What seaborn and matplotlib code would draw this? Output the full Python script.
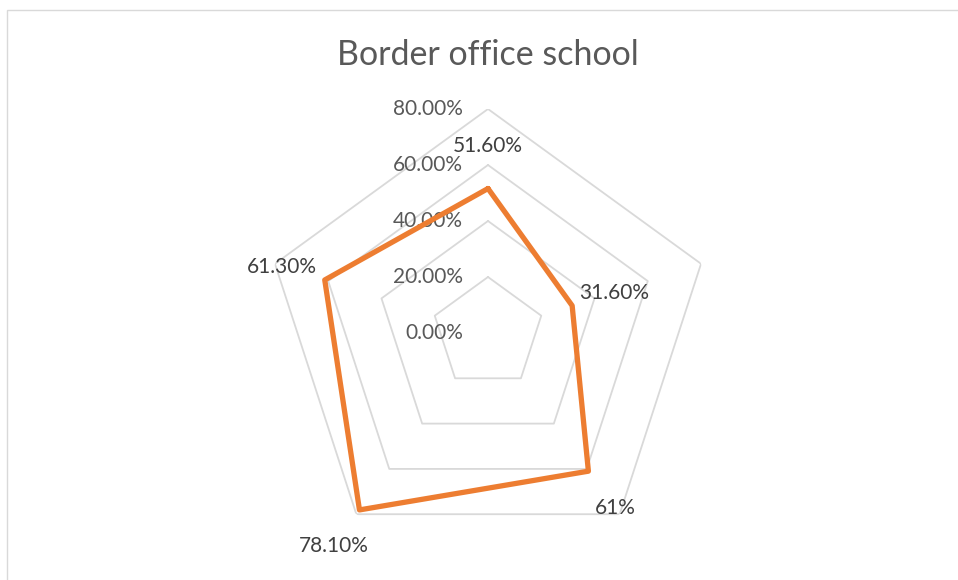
import numpy as np
import matplotlib
matplotlib.use("Agg")
import matplotlib.pyplot as plt
import seaborn as sns
from matplotlib.patches import Rectangle

title = "Border office school"
categories = ["A", "B", "C", "D", "E"]
values = [51.6, 31.6, 61.0, 78.1, 61.3]
value_labels = ["51.60%", "31.60%", "61%", "78.10%", "61.30%"]
ring_values = [0, 20, 40, 60, 80]
ring_labels = ["0.00%", "20.00%", "40.00%", "60.00%", "80.00%"]
label_offsets = [(0, 43), (42, 13), (27, -37), (-26, -36), (-43, 13)]

sns.set_theme(style="white")
plt.rcParams['font.family'] = ['Lato', 'DejaVu Sans']

W, H = 958, 580
fig = plt.figure(figsize=(W / 100, H / 100), dpi=100)
fig.patch.set_facecolor("white")

# chart border
fig.patches.append(Rectangle((7 / W, -0.2), 2.0, 1.2 - 10 / H, transform=fig.transFigure,
                             fill=False, edgecolor="#D9D9D9", linewidth=1.0))

cx, cy, R = 488, 333, 224
ax = fig.add_axes([(cx - R) / W, (H - cy - R) / H, 2 * R / W, 2 * R / H], projection="polar")
ax.set_theta_zero_location("N")
ax.set_theta_direction(-1)
ax.set_ylim(0, 80)
ax.grid(False)
ax.set_xticks([])
ax.set_yticks([])
ax.spines["polar"].set_visible(False)
ax.set_facecolor("none")

n = len(categories)
theta = np.linspace(0, 2 * np.pi, n, endpoint=False)
theta_c = np.append(theta, 2 * np.pi)

for rv in ring_values[1:]:
    ax.plot(theta_c, [rv] * (n + 1), color="#D9D9D9", lw=1.3, zorder=1)

for rv, rl in zip(ring_values, ring_labels):
    ax.annotate(rl, xy=(0, rv), xytext=(-25, 0), textcoords="offset pixels",
                ha="right", va="center", fontsize=15, color="#595959", zorder=2)

vals_c = values + [values[0]]
sns.lineplot(x=theta_c, y=vals_c, sort=False, estimator=None, ax=ax,
             color="#ED7D31", linewidth=3.8, zorder=3)

for t, v, lab, off in zip(theta, values, value_labels, label_offsets):
    ax.annotate(lab, xy=(t, v), xytext=off, textcoords="offset pixels",
                ha="center", va="center", fontsize=15, color="#404040", zorder=4)

fig.text(488 / W, 1 - 55 / H, title, ha="center", va="center", fontsize=24.5,
         color="#595959")

fig.savefig("out.png", dpi=100)
